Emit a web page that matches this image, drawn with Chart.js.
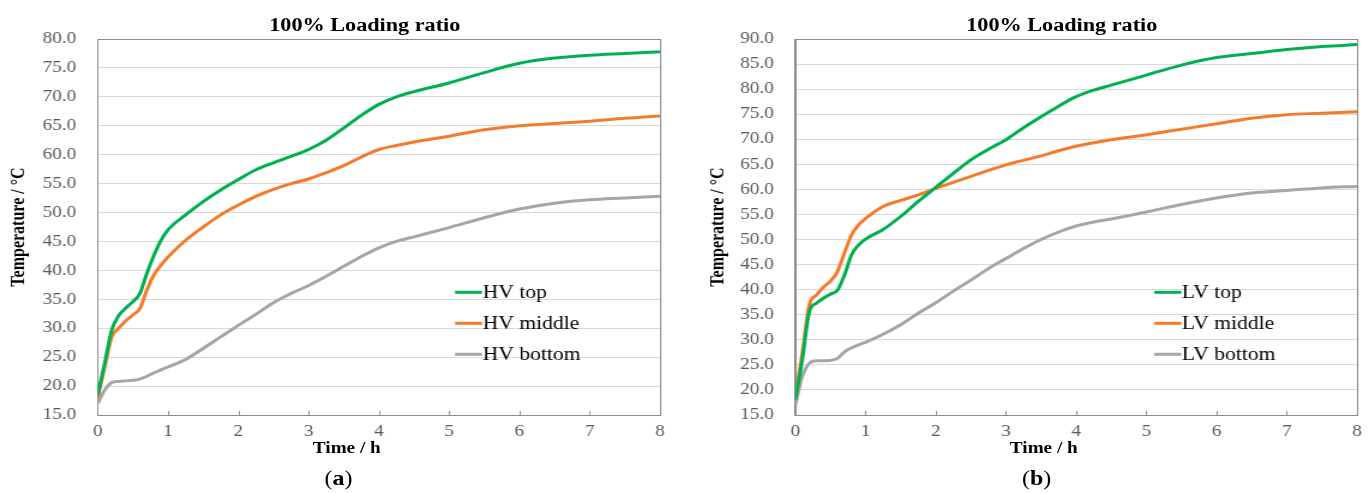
<!DOCTYPE html>
<html>
<head>
<meta charset="utf-8">
<script src="https://cdn.jsdelivr.net/npm/chart.js@4.4.1/dist/chart.umd.min.js"></script>
<style>
html,body{margin:0;padding:0;background:#fff;overflow:hidden}
body{width:1371px;height:493px;position:relative;font-family:"Liberation Serif","Times New Roman",serif}
/* each panel is drawn narrow and widened, like the original figure */
.panel{position:absolute;top:0;width:571px;height:493px;transform:scaleX(1.2);transform-origin:0 0}
.panel canvas{position:absolute;left:0;top:0}
.lbl{position:absolute;transform:translate(-50%,-50%);white-space:nowrap;color:#000}
.ttl{font-size:18.5px;font-weight:bold}
.xt{font-size:16px;font-weight:bold}
.sub{font-size:20px}
</style>
</head>
<body>
<div class="panel" style="left:0">
  <canvas id="chart-hv" width="571" height="470"></canvas>
  <div class="lbl ttl" style="left:304px;top:25px">100% Loading ratio</div>
  <div class="lbl xt" style="left:289px;top:448px">Time / h</div>
  <div class="lbl sub" style="left:282px;top:478px">(<b>a</b>)</div>
</div>
<div class="panel" style="left:685px">
  <canvas id="chart-lv" width="571" height="470"></canvas>
  <div class="lbl ttl" style="left:314px;top:25px">100% Loading ratio</div>
  <div class="lbl xt" style="left:299px;top:448px">Time / h</div>
  <div class="lbl sub" style="left:293px;top:478px">(<b>b</b>)</div>
</div>
<script>
// Tiempo de ensayo (h)
const TIME = [0,0.1,0.2,0.3,0.4,0.5,0.6,0.7,0.8,0.9,1.0,1.25,1.5,1.75,2.0,2.25,2.5,2.75,3.0,3.25,3.5,3.75,4.0,4.25,4.5,5.0,5.5,6.0,6.5,7.0,7.5,8.0];

// Devanado AT (°C)
const HV_TOP    = [18.4,24.0,29.7,32.2,33.5,34.6,36.0,39.5,42.6,45.2,47.0,49.6,51.9,53.9,55.7,57.4,58.6,59.7,60.9,62.5,64.6,66.8,68.7,70.0,70.9,72.4,74.2,75.8,76.7,77.2,77.5,77.8];
const HV_MIDDLE = [18.0,23.3,28.5,30.0,31.3,32.3,33.4,36.6,39.2,40.9,42.3,45.2,47.5,49.6,51.3,52.8,54.0,55.0,55.8,56.9,58.1,59.6,60.9,61.6,62.2,63.2,64.3,65.0,65.4,65.8,66.3,66.7];
const HV_BOTTOM = [17.0,19.3,20.6,20.8,20.9,21.0,21.2,21.7,22.3,22.8,23.3,24.6,26.5,28.5,30.5,32.4,34.4,36.0,37.4,39.0,40.7,42.4,43.9,45.0,45.8,47.4,49.1,50.6,51.6,52.2,52.5,52.8];

// Devanado BT (°C)
const LV_TOP    = [18.0,26.0,35.6,37.3,38.3,39.1,39.9,42.9,46.9,48.9,50.1,52.0,54.6,57.6,60.4,63.2,65.9,68.0,69.9,72.3,74.5,76.6,78.5,79.8,80.8,82.8,84.8,86.3,87.1,87.9,88.5,88.9];
const LV_MIDDLE = [18.5,27.3,37.0,38.9,40.5,41.7,43.6,47.3,50.9,52.9,54.2,56.6,57.8,58.9,60.2,61.4,62.6,63.8,64.9,65.8,66.7,67.7,68.6,69.3,69.9,70.9,72.0,73.1,74.2,74.9,75.2,75.5];
const LV_BOTTOM = [17.0,22.7,25.3,25.8,25.8,25.9,26.3,27.6,28.4,29.0,29.5,31.1,33.0,35.3,37.4,39.7,41.9,44.2,46.2,48.2,50.0,51.5,52.7,53.5,54.1,55.5,57.0,58.3,59.3,59.8,60.3,60.6];

const HV_LABELS = ['HV top','HV middle','HV bottom'];
const LV_LABELS = ['LV top','LV middle','LV bottom'];
const COLORS = ['#00b050','#f57b2a','#a6a6a6'];

const SERIF = '"Liberation Serif","Times New Roman",serif';

const pts = ys => ys.map((y,i)=>({x:TIME[i], y}));

// marco del área y marcas cortas del eje x hacia dentro
const plotFrame = {
  id:'plotFrame',
  beforeDatasetsDraw(chart){
    const {ctx, chartArea:a, scales:{x}} = chart;
    ctx.save();
    ctx.strokeStyle='#8c8c8c'; ctx.lineWidth=1;
    ctx.strokeRect(Math.round(a.left)+0.5, Math.round(a.top)+0.5, Math.round(a.right-a.left), Math.round(a.bottom-a.top));
    x.ticks.forEach(t=>{
      const px = Math.round(x.getPixelForValue(t.value))+0.5;
      ctx.beginPath(); ctx.moveTo(px, a.bottom); ctx.lineTo(px, a.bottom-4); ctx.stroke();
    });
    ctx.restore();
  }
};

// leyenda dentro del área de trazado
const lineLegend = {
  id:'lineLegend',
  afterDatasetsDraw(chart, args, o){
    const {ctx, chartArea:a} = chart;
    ctx.save();
    ctx.font = '18px ' + SERIF;
    ctx.textBaseline='middle'; ctx.textAlign='left';
    chart.data.datasets.forEach((ds,i)=>{
      const x = a.left + o.left, y = a.top + o.top + i*o.gap;
      ctx.strokeStyle = ds.borderColor; ctx.lineWidth = 3;
      ctx.beginPath(); ctx.moveTo(x,y); ctx.lineTo(x+o.swatch,y); ctx.stroke();
      ctx.fillStyle = '#000';
      ctx.fillText(ds.label, x+o.swatch+0.5, y+0.5);
    });
    ctx.restore();
  }
};

function renderPanel(id, labels, series, yMax, axisW, titlePad, rightPad, legendLeft){
  const el = document.getElementById(id);
  return new Chart(el.getContext('2d'), {
    type:'line',
    data:{ datasets: series.map((s,i)=>({
      label: labels[i], data: pts(s), borderColor: COLORS[i], backgroundColor: COLORS[i],
      borderWidth: 3, pointRadius: 0, tension: 0.4, cubicInterpolationMode: 'monotone', fill: false
    }))},
    options:{
      responsive:false, animation:false, events:[],
      layout:{ padding:{ left:0, top:39, right:rightPad, bottom:15 } },
      plugins:{
        legend:{ display:false }, tooltip:{ enabled:false }, title:{ display:false },
        lineLegend:{ left:legendLeft, top:253.3, gap:31, swatch:22.5 }
      },
      scales:{
        x:{
          type:'linear', min:0, max:8,
          ticks:{ stepSize:1, padding:7, color:'#595959', font:{ family:SERIF, size:16 } },
          grid:{ display:false, drawTicks:false },
          border:{ display:true, color:'#8c8c8c' },
          afterFit: s => { s.height = 40; }
        },
        y:{
          min:15, max:yMax,
          ticks:{ stepSize:5, padding:18, color:'#595959', font:{ family:SERIF, size:16 },
                  callback: v => Number(v).toFixed(1) },
          grid:{ color:'#d9d9d9', drawTicks:false },
          border:{ display:true, color:'#8c8c8c' },
          title:{ display:true, text:'Temperature / °C', color:'#000',
                  font:{ family:SERIF, size:16, weight:'bold' }, padding:{ top:titlePad, bottom:0 } },
          afterFit: s => { s.width = axisW; }
        }
      }
    },
    plugins:[plotFrame, lineLegend]
  });
}

renderPanel('chart-hv', HV_LABELS, [HV_TOP, HV_MIDDLE, HV_BOTTOM], 80, 81.4, 6.7, 21, 297.8);
renderPanel('chart-lv', LV_LABELS, [LV_TOP, LV_MIDDLE, LV_BOTTOM], 90, 91.9, 17.9, 10.4, 299.2);
</script>
</body>
</html>
